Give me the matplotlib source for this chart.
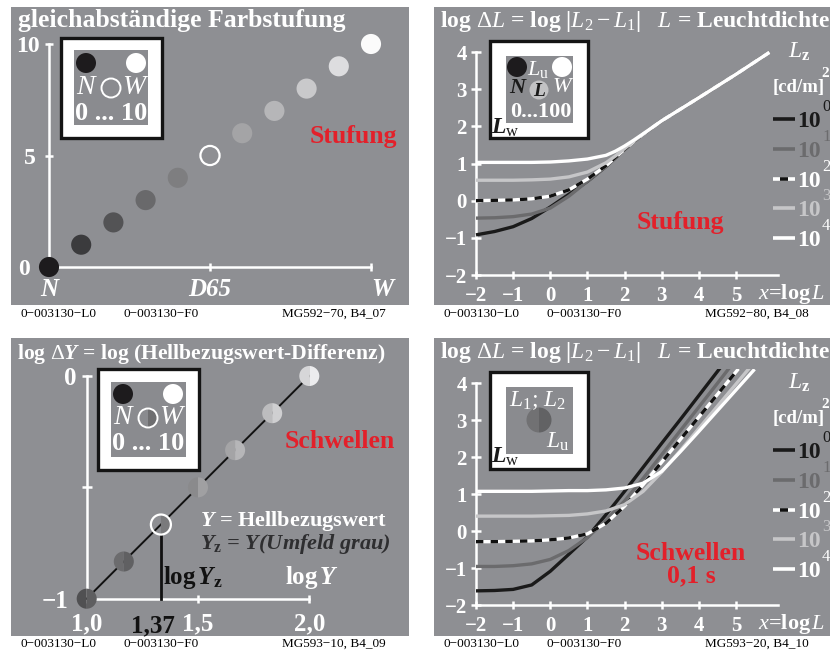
import matplotlib
matplotlib.use('Agg')
import matplotlib.pyplot as plt
from matplotlib.patches import Rectangle, Circle, Wedge

plt.rcParams['font.family'] = ['Liberation Serif', 'DejaVu Serif']
plt.rcParams['mathtext.fontset'] = 'custom'
plt.rcParams['mathtext.rm'] = 'Liberation Serif'
plt.rcParams['mathtext.it'] = 'Liberation Serif:italic'
plt.rcParams['mathtext.bf'] = 'Liberation Serif:bold'
plt.rcParams['mathtext.bfit'] = 'Liberation Serif:italic:bold'

# ---------------- data ----------------
# Panel 1: equally spaced colour steps N ... W
steps = [0, 1, 2, 3, 4, 5, 6, 7, 8, 9, 10]
step_greys = ['#1d1b1d', '#3b3b3d', '#535355', '#69696b', '#7e7e80', None,
              '#a4a4a6', '#b6b6b8', '#c9c9cb', '#dddddf', '#fbfbfb']
x1_ticks = [0, 5, 10]
x1_labels = ['N', 'D65', 'W']
y1_ticks = [0, 5, 10]
y1_labels = ['0', '5', '10']

# Panel 2: Stufung, log dL vs log L for L_z = 10^0 ... 10^4
lz_exp = ['0', '1', '2', '3', '4']
x_stuf = [-2, -1.5, -1, -0.5, 0, 0.5, 1, 1.5, 1.75, 2, 2.25, 2.5, 3, 4, 5, 5.9]
stuf_0 = [-0.92, -0.83, -0.70, -0.48, -0.17, 0.17, 0.52, 0.92, 1.15, 1.38, 1.59, 1.79, 2.15, 2.77, 3.40, 3.99]
stuf_1 = [-0.47, -0.46, -0.43, -0.36, -0.20, 0.12, 0.52, 0.92, 1.15, 1.38, 1.59, 1.79, 2.15, 2.77, 3.40, 3.99]
stuf_2 = [0.00, 0.01, 0.02, 0.05, 0.12, 0.29, 0.58, 0.94, 1.16, 1.38, 1.59, 1.79, 2.15, 2.77, 3.40, 3.99]
stuf_3 = [0.55, 0.55, 0.55, 0.56, 0.58, 0.64, 0.77, 1.02, 1.20, 1.40, 1.60, 1.79, 2.15, 2.77, 3.40, 3.99]
stuf_4 = [1.03, 1.03, 1.03, 1.03, 1.04, 1.07, 1.12, 1.22, 1.33, 1.47, 1.63, 1.80, 2.15, 2.77, 3.40, 3.99]

# Panel 3: thresholds, log dY vs log Y
logY = [1.0, 1.1667, 1.3333, 1.5, 1.6667, 1.8333, 2.0]
logdY = [-1.0, -0.833, -0.667, -0.5, -0.333, -0.167, 0.0]
half_left = ['#505052', '#6c6c6e', None, '#8a8a8c', '#a4a4a6', '#bcbcbe', '#d6d6d8']
half_right = ['#5e5e60', '#606062', '#7a7a7c', '#a0a0a2', '#b6b6b8', '#cfcfd1', '#ececee']
logYz_idx = 2
logYz_label = '1,37'
x3_ticks = [1.0, 1.5, 2.0]
x3_labels = ['1,0', '1,5', '2,0']
y3_ticks = [-1.0, -0.5, 0.0]
y3_labels = ['\u22121', '', '0']

# Panel 4: Schwellen 0,1 s
x_schw = [-2, -1.5, -1, -0.5, 0, 0.5, 1, 1.5, 2, 2.5, 3, 3.5, 4, 4.5, 5, 5.5]
schw_0 = [-1.61, -1.60, -1.57, -1.45, -1.08, -0.62, -0.15, 0.45, 1.08, 1.73, 2.38, 3.02, 3.67, 4.32, 4.97, 5.6]
schw_1 = [-0.95, -0.95, -0.93, -0.88, -0.76, -0.52, -0.17, 0.30, 0.82, 1.43, 2.07, 2.72, 3.36, 4.00, 4.65, 5.3]
schw_2 = [-0.28, -0.28, -0.27, -0.26, -0.23, -0.18, -0.07, 0.22, 0.68, 1.26, 1.87, 2.48, 3.09, 3.70, 4.31, 4.92]
schw_3 = [0.41, 0.41, 0.41, 0.41, 0.42, 0.43, 0.47, 0.55, 0.72, 1.08, 1.60, 2.18, 2.78, 3.38, 3.98, 4.58]
schw_4 = [1.08, 1.08, 1.08, 1.08, 1.09, 1.10, 1.10, 1.12, 1.17, 1.30, 1.62, 2.15, 2.70, 3.26, 3.82, 4.38]

x24_ticks = [-2, -1, 0, 1, 2, 3, 4, 5]
y24_ticks = [-2, -1, 0, 1, 2, 3, 4]

# ---------------- style ----------------
W, H = 830, 652
BG = '#8e8f93'
INNER = '#8a8b8f'
RED = '#e3202a'
C0, C1, C3 = '#1a1a1a', '#6b6b6d', '#c6c6c8'
fig = plt.figure(figsize=(8.3, 6.52), dpi=100)


def conv(p, cal):
    (pa, va), (pb, vb) = cal
    return va + (p - pa) * (vb - va) / (pb - pa)


def panel(px0, py0, px1, py1, xcal, ycal):
    ax = fig.add_axes([px0 / W, 1 - py1 / H, (px1 - px0) / W, (py1 - py0) / H])
    ax.set_xlim(conv(px0, xcal), conv(px1, xcal))
    ax.set_ylim(conv(py1, ycal), conv(py0, ycal))
    ax.set_facecolor(BG)
    for s in ('top', 'right'):
        ax.spines[s].set_visible(False)
    for s in ('left', 'bottom'):
        ax.spines[s].set_color('white')
        ax.spines[s].set_linewidth(1.8)
    ax.tick_params(colors='white', direction='inout', width=1.8)
    return ax


# ---------- Panel 1 ----------
ax1 = panel(11, 7, 409, 305, ((49, 0), (371, 10)), ((267, 0), (44, 10)))
ax1.spines['left'].set_position(('data', 0))
ax1.spines['left'].set_bounds(0, 10)
ax1.spines['bottom'].set_position(('data', 0))
ax1.spines['bottom'].set_bounds(0, 10)
ax1.set_xticks(x1_ticks, x1_labels, fontsize=18, fontweight='bold', fontstyle='italic')
ax1.set_yticks(y1_ticks, y1_labels, fontsize=17, fontweight='bold')
ax1.tick_params(axis='y', length=6)
ax1.tick_params(axis='x', length=6, pad=5)
for tk, pd in zip(ax1.yaxis.get_major_ticks(), (11, 6.5, 4)):
    tk.set_pad(pd)
ax1.get_xticklabels()[2].set_horizontalalignment('left')
filled = [i for i, c in enumerate(step_greys) if c is not None]
ax1.scatter([steps[i] for i in filled], [steps[i] for i in filled], s=210,
            c=[step_greys[i] for i in filled], edgecolors='none', zorder=5, clip_on=False)
opn = [i for i, c in enumerate(step_greys) if c is None]
ax1.scatter([steps[i] for i in opn], [steps[i] for i in opn], s=190, facecolors='none',
            edgecolors='white', linewidths=1.6, zorder=5)

# ---------- Panel 2 ----------
xcal24 = ((476, -2), (736, 5))
ax2 = panel(434, 7, 830, 305, xcal24, ((275, -2), (52, 4)))
# ---------- Panel 4 ----------
ax4 = panel(434, 338, 830, 636, xcal24, ((605.3, -2), (383.3, 4)))
for ax in (ax2, ax4):
    ax.spines['left'].set_position(('data', -2))
    ax.spines['left'].set_bounds(-2, 4)
    ax.spines['bottom'].set_position(('data', -2))
    ax.spines['bottom'].set_bounds(-2, 6.13)
    ax.set_xticks(x24_ticks, [str(t).replace('-', '\u2212') for t in x24_ticks],
                  fontsize=15, fontweight='bold')
    ax.set_yticks(y24_ticks, [str(t).replace('-', '\u2212') for t in y24_ticks],
                  fontsize=15, fontweight='bold')
    ax.tick_params(axis='y', length=7, pad=3)
    ax.tick_params(axis='x', length=6, pad=5)


def curves(ax, xs, series, clip=None):
    cols = [C0, C1, None, C3, 'white']
    for ys, c in zip(series, cols):
        if c is None:
            l1, = ax.plot(xs, ys, color='white', lw=2.4, solid_capstyle='butt', zorder=3)
            l2, = ax.plot(xs, ys, color='#111111', lw=2.4, dashes=(2.2, 2.2), zorder=3)
            lines = [l1, l2]
        else:
            l, = ax.plot(xs, ys, color=c, lw=2.4, solid_capstyle='butt', zorder=3)
            lines = [l]
        if clip is not None:
            for l in lines:
                l.set_clip_path(Rectangle((-3, -3), 12, clip + 3, transform=ax.transData))


curves(ax2, x_stuf, [stuf_0, stuf_1, stuf_2, stuf_3, stuf_4])
curves(ax4, x_schw, [schw_0, schw_1, schw_2, schw_3, schw_4], clip=4.38)

# ---------- Panel 3 ----------
ax3 = panel(11, 338, 409, 636, ((86.7, 1.0), (309.3, 2.0)), ((598.7, -1.0), (376, 0.0)))
ax3.spines['left'].set_position(('data', 1.0))
ax3.spines['left'].set_bounds(-1, 0)
ax3.spines['bottom'].set_position(('data', -1.0))
ax3.spines['bottom'].set_bounds(1.0, 2.0)
ax3.set_xticks(x3_ticks, x3_labels, fontsize=18, fontweight='bold')
ax3.set_yticks(y3_ticks, y3_labels, fontsize=18, fontweight='bold')
ax3.tick_params(axis='y', length=7)
ax3.tick_params(axis='x', length=6, pad=7)
for tk, pd in zip(ax3.yaxis.get_major_ticks(), (10, 4, 4)):
    tk.set_pad(pd)
ax3.plot(logY, logdY, color='#111111', lw=1.4, zorder=3)
r3 = 0.045
for i, (xv, yv) in enumerate(zip(logY, logdY)):
    if half_left[i] is None:
        ax3.add_patch(Wedge((xv, yv), r3, 270, 90, facecolor=half_right[i], edgecolor='none', zorder=4))
        ax3.add_patch(Circle((xv, yv), r3, facecolor='none', edgecolor='white', lw=1.6, zorder=5))
    else:
        ax3.add_patch(Wedge((xv, yv), r3, 90, 270, facecolor=half_left[i], edgecolor='none', zorder=4, clip_on=False))
        ax3.add_patch(Wedge((xv, yv), r3, 270, 90, facecolor=half_right[i], edgecolor='none', zorder=4, clip_on=False))
ax3.plot([logY[logYz_idx], logY[logYz_idx]], [-1.0, logdY[logYz_idx] - r3], color='#111111', lw=2.0, zorder=3)
ax3.annotate(logYz_label, xy=(logY[logYz_idx], -1.0), xytext=(-6, -11), textcoords='offset points',
             ha='center', va='top', fontsize=18, fontweight='bold', color='#111111')

# ---------------- overlay (pixel coordinates) ----------------
ov = fig.add_axes([0, 0, 1, 1])
ov.set_xlim(0, W)
ov.set_ylim(H, 0)
ov.axis('off')


def T(x, y, s, size=16, color='white', weight='bold', style='normal', ha='left', va='baseline', **kw):
    ov.text(x, y, s, fontsize=size, color=color, fontweight=weight, fontstyle=style, ha=ha, va=va, **kw)


# titles
T(18, 27, 'gleichabst\u00e4ndige Farbstufung', size=18.5)
tt = r'log $\Delta\mathit{L}$ = log |$\mathit{L}_2 - \mathit{L}_1$|   $\mathit{L}$ = Leuchtdichte'
T(440, 27, tt, size=17)
T(17, 359, r'log $\Delta\mathbfit{Y}$ = log (Hellbezugswert-Differenz)', size=15.6)
T(440, 358, tt, size=17)

# red labels
T(353, 136, 'Stufung', size=18.5, color=RED, ha='center', va='center')
T(680, 222, 'Stufung', size=18.5, color=RED, ha='center', va='center')
T(340, 441, 'Schwellen', size=18.5, color=RED, ha='center', va='center')
T(691, 554, 'Schwellen', size=18.5, color=RED, ha='center', va='center')
T(691, 576, '0,1 s', size=18.5, color=RED, ha='center', va='center')

# x-axis names
T(758, 299, r'$\mathit{x}$=log$\,\mathit{L}$', size=16)
T(758, 629, r'$\mathit{x}$=log$\,\mathit{L}$', size=16)

# panel 3 texts
T(200, 526, r'$\mathbfit{Y}$ = Hellbezugswert', size=16)
T(200, 549, r'$\mathbfit{Y}_\mathbf{z}$ = $\mathbfit{Y}$(Umfeld grau)', size=16, color='#2e2e30', style='italic')
T(163, 584, r'log$\,\mathbfit{Y}_\mathbf{z}$', size=18, color='#111111')
T(285, 584, r'log$\,\mathbfit{Y}$', size=18)

# legends
leg_cols = [C0, C1, None, C3, 'white']
lab_cols = [C0, C1, 'white', C3, 'white']
for dy in (0, 331):
    T(788, 58 + dy, r'$\mathit{L}_\mathbf{z}$', size=17)
    T(821, 77 + dy, '2', size=11)
    T(773, 92 + dy, '[cd/m]', size=13.5)
    for i, e in enumerate(lz_exp):
        yy = 119 + dy + 29.8 * i
        if leg_cols[i] is None:
            ov.plot([773, 795], [yy, yy], color='white', lw=2.6, solid_capstyle='butt')
            ov.plot([780, 788], [yy, yy], color='#111111', lw=2.6, solid_capstyle='butt')
        else:
            ov.plot([773, 795], [yy, yy], color=leg_cols[i], lw=2.6, solid_capstyle='butt')
        T(797, yy + 8, '10', size=17, color=lab_cols[i])
        T(822, yy - 8, e, size=12, weight='normal', color=lab_cols[i])


# insets
def frame(x0, y0, x1, y1, ix0, iy0, ix1, iy1):
    ov.add_patch(Rectangle((x0, y0), x1 - x0, y1 - y0, facecolor='white', edgecolor='#141414', lw=2.4))
    ov.add_patch(Rectangle((ix0, iy0), ix1 - ix0, iy1 - iy0, facecolor=INNER, edgecolor='none'))


# panel 1 inset
frame(61, 38, 162, 138, 74, 50, 148, 125)
ov.add_patch(Circle((86, 63), 10, facecolor='#1d1b1d', edgecolor='none'))
ov.add_patch(Circle((136, 63), 10, facecolor='white', edgecolor='none'))
ov.add_patch(Circle((111, 88), 9.5, facecolor='none', edgecolor='white', lw=1.4))
T(85, 87, 'N', size=20, weight='normal', style='italic', ha='center', va='center')
T(134, 87, 'W', size=20, weight='normal', style='italic', ha='center', va='center')
T(111, 114, '0 ... 10', size=19, ha='center', va='center')

# panel 3 inset
frame(98, 369, 199, 470, 111, 382, 186, 457)
ov.add_patch(Circle((123, 394), 10, facecolor='#1d1b1d', edgecolor='none'))
ov.add_patch(Circle((173, 394), 10, facecolor='white', edgecolor='none'))
ov.add_patch(Wedge((148, 418), 9.5, 270, 90, facecolor='#6e6e70', edgecolor='none'))
ov.add_patch(Circle((148, 418), 9.5, facecolor='none', edgecolor='white', lw=1.4))
T(122, 417, 'N', size=20, weight='normal', style='italic', ha='center', va='center')
T(171, 417, 'W', size=20, weight='normal', style='italic', ha='center', va='center')
T(148, 444, '0 ... 10', size=19, ha='center', va='center')

# panel 2 inset
frame(490, 41, 588, 138, 506, 56, 573, 123)
ov.add_patch(Circle((517, 67), 10, facecolor='#1d1b1d', edgecolor='none'))
ov.add_patch(Circle((562, 67), 10, facecolor='white', edgecolor='none'))
ov.add_patch(Circle((539, 90), 9.5, facecolor='#c2c2c4', edgecolor='none'))
T(538, 70, r'$\mathit{L}_\mathrm{u}$', size=16, weight='normal', ha='center', va='center')
T(517, 88, 'N', size=16, color='#1a1a1a', style='italic', ha='center', va='center')
T(539, 91, 'L', size=14, color='#1a1a1a', style='italic', ha='center', va='center')
T(562, 88, 'W', size=16, weight='normal', style='italic', ha='center', va='center')
T(541, 112, '0...100', size=16, ha='center', va='center')
T(505, 128, r'$\mathbfit{L}_\mathrm{w}$', size=17, color='#1a1a1a', ha='center', va='center')

# panel 4 inset
frame(490, 372, 588, 469, 506, 387, 573, 454)
ov.add_patch(Wedge((539, 420), 12.5, 90, 270, facecolor='#717173', edgecolor='none'))
ov.add_patch(Wedge((539, 420), 12.5, 270, 90, facecolor='#626264', edgecolor='none'))
T(538, 401, r'$\mathit{L}_1$; $\mathit{L}_2$', size=17, weight='normal', ha='center', va='center')
T(558, 442, r'$\mathit{L}_\mathrm{u}$', size=17, weight='normal', ha='center', va='center')
T(505, 457, r'$\mathbfit{L}_\mathrm{w}$', size=17, color='#1a1a1a', ha='center', va='center')

# footers
for (x0, y0, code) in [(20, 317, 'MG592\u221270, B4_07'), (443, 317, 'MG592\u221280, B4_08'),
                       (20, 647, 'MG593\u221210, B4_09'), (443, 647, 'MG593\u221220, B4_10')]:
    T(x0, y0, '0\u2212003130\u2212L0', size=9.5, color='black', weight='normal')
    T(x0 + 103, y0, '0\u2212003130\u2212F0', size=9.5, color='black', weight='normal')
    T(x0 + 262, y0, code, size=9.5, color='black', weight='normal')

fig.savefig('out.png', dpi=100)
